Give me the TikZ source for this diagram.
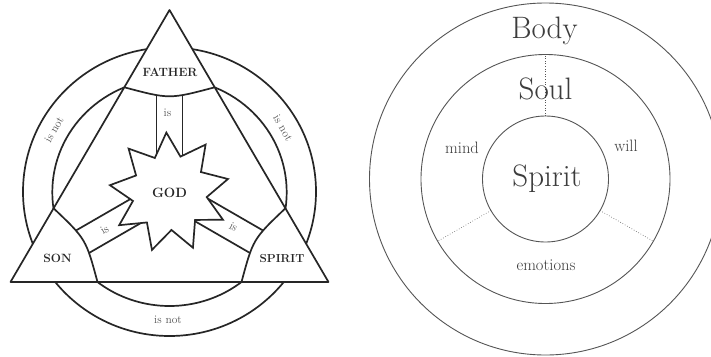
\documentclass[tikz,border=0pt]{standalone}
\usepackage{fontspec}
\usetikzlibrary{calc,shapes.geometric}
\definecolor{ink}{HTML}{262626}
\definecolor{lightink}{HTML}{555555}
\definecolor{rline}{HTML}{555555}
\definecolor{rtext}{HTML}{3C3C3C}
\begin{document}
\begin{tikzpicture}[x=1pt,y=-1pt,
  tline/.style={draw=ink,line width=1.7pt,line join=round},
  boldlab/.style={text=ink,font=\fontsize{12}{14}\selectfont\bfseries,inner sep=0pt},
  islab/.style={text=lightink,font=\fontsize{11.5}{13}\selectfont,inner sep=0pt},
  rcirc/.style={draw=rline,line width=0.9pt},
  rdot/.style={draw=rline,line width=0.6pt,dotted},
  bigw/.style={text=rtext,font=\fontsize{31}{35}\selectfont,inner sep=0pt,anchor=base},
  smallw/.style={text=rtext,font=\fontsize{16.5}{19}\selectfont,inner sep=0pt,anchor=base}]
\useasboundingbox (0,0) rectangle (711,356);
\clip (0,0) rectangle (711,356);
\fill[white] (0,0) rectangle (711,356);
% ---------------- left figure ----------------
\coordinate (O) at (169.5,191.5);
\coordinate (T) at (169.5,10);
\coordinate (L) at (10.5,282);
\coordinate (R) at (328.5,282);
\coordinate (A1) at (124.3,87.3);
\coordinate (B1) at (214.7,87.3);
\coordinate (A2) at (53.6,208.3);
\coordinate (B2) at (97.5,282);
\coordinate (A3) at (285.4,208.3);
\coordinate (B3) at (241.5,282);
\draw[tline] (169.5,191.7) ellipse [x radius=146.5pt, y radius=144.3pt];
\draw[tline] (169.5,192.3) ellipse [x radius=117.2pt, y radius=113.7pt];
\fill[white] (T) -- (L) -- (R) -- cycle;
\begin{scope}
  \clip (A1) .. controls (169.5,99.3) .. (B1) -- (A3) .. controls (253.1,239) .. (B3)
        -- (B2) .. controls (85.9,239) .. (A2) -- cycle;
  \foreach \a in {-90,30,150} {
    \draw[tline] ($(O)+(\a+90:13)$) -- ($(O)+(\a+90:13)+(\a:160)$);
    \draw[tline] ($(O)+(\a-90:13)$) -- ($(O)+(\a-90:13)+(\a:160)$);
  }
\end{scope}
\draw[tline] (A1) .. controls (169.5,99.3) .. (B1);
\draw[tline] (A2) .. controls (85.9,239) .. (B2);
\draw[tline] (A3) .. controls (253.1,239) .. (B3);
\draw[tline] (T) -- (L) -- (R) -- cycle;
\node[star, star points=9, star point ratio=1.6, minimum size=120pt, inner sep=0pt,
      shape border rotate=3, draw=ink, line width=1.7pt, fill=white, line join=miter,
      text=ink, font=\fontsize{13.5}{15}\selectfont\bfseries] (god) at (169.5,192.5) {GOD};
\node[boldlab] (father) at (170,72.5) {FATHER};
\node[boldlab] (son) at (57.5,258.5) {SON};
\node[boldlab,font=\fontsize{11.6}{14}\selectfont\bfseries] (spiritL) at (282,258.5) {SPIRIT};
\node[islab] (is1) at (167.5,113) {is};
\node[islab,rotate=30] (is2) at (104.5,229.5) {is};
\node[islab,rotate=-30] (is3) at (233.5,227) {is};
\node[islab,rotate=60] (isnot1) at (54,129.5) {is not};
\node[islab,rotate=-60] (isnot2) at (283,128) {is not};
\node[islab] (isnot3) at (168,319.5) {is not};
% ---------------- right figure ----------------
\coordinate (C) at (545.5,179);
\draw[rcirc] (C) circle [radius=176pt];
\draw[rcirc] (C) circle [radius=124.5pt];
\draw[rcirc] (C) circle [radius=63pt];
\foreach \a in {-90,30,150}
  \draw[rdot] ($(C)+(\a:63)$) -- ($(C)+(\a:124.5)$);
\node[bigw] (body) at (544.5,38.5) {Body};
\node[bigw] (soul) at (545.5,99.5) {Soul};
\node[bigw] (spiritR) at (547,186.5) {Spirit};
\node[smallw] (mind) at (462,153.5) {mind};
\node[smallw] (will) at (626,151) {will};
\node[smallw] (emo) at (546,270) {emotions};
\end{tikzpicture}
\end{document}
